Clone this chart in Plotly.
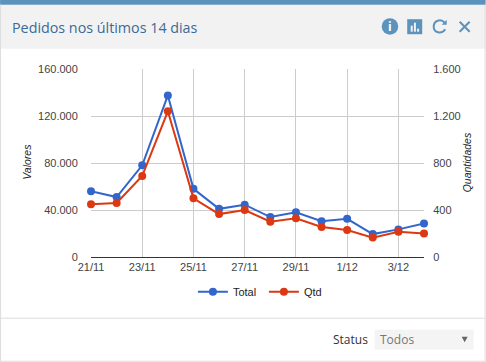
import plotly.graph_objects as go

dates = ["21/11", "22/11", "23/11", "24/11", "25/11", "26/11", "27/11",
         "28/11", "29/11", "30/11", "1/12", "2/12", "3/12", "4/12"]
total = [56000, 51000, 78000, 137500, 58000, 41000, 44500,
         34000, 38000, 30500, 32500, 19500, 23500, 28500]
qtd = [450, 460, 690, 1240, 500, 365, 400,
       300, 330, 255, 230, 165, 215, 200]
x_ticks = ["21/11", "23/11", "25/11", "27/11", "29/11", "1/12", "3/12"]
left_ticks = [0, 40000, 80000, 120000, 160000]
right_ticks = [0, 400, 800, 1200, 1600]

W, H = 486, 362
ML, MR, MT, MB = 91, 61.7, 69.3, 104.7
BLUE, RED = "#3366cc", "#dc3912"
ACCENT = "#5b93bd"
GRID = "#cccccc"
FONT = "Liberation Sans, Arial, sans-serif"

def X(p): return (p - ML) / (W - ML - MR)
def Y(p): return (H - MB - p) / (H - MT - MB)

def rect(x0, y0, x1, y1, fill, line=None, layer="below"):
    return dict(type="rect", xref="paper", yref="paper", x0=X(x0), x1=X(x1),
                y0=Y(y0), y1=Y(y1), fillcolor=fill, layer=layer,
                line=dict(width=1 if line else 0, color=line or fill))

def seg(x0, y0, x1, y1, color, width=1, layer="above"):
    return dict(type="line", xref="paper", yref="paper", x0=X(x0), x1=X(x1),
                y0=Y(y0), y1=Y(y1), layer=layer, line=dict(color=color, width=width))

def label(x, y, text, size, color, family=FONT, anchor="left", angle=0):
    return dict(xref="paper", yref="paper", x=X(x), y=Y(y), text=text, showarrow=False,
                xanchor=anchor, yanchor="middle", textangle=angle,
                font=dict(size=size, color=color, family=family))

shapes = [
    rect(0, 5, W, 49, "#f2f2f2"),
    rect(0, 0, W, 5, ACCENT),
    seg(0.5, 5, 0.5, H, "#dddddd", layer="below"),
    seg(W - 0.5, 5, W - 0.5, H, "#dddddd", layer="below"),
    seg(0, H - 0.5, W, H - 0.5, "#dddddd", layer="below"),
    seg(0, 318.5, W, 318.5, "#dddddd", layer="below"),
    rect(375, 330, 474, 350, "#f4f4f4"),
    # info icon
    dict(type="circle", xref="paper", yref="paper", x0=X(382), x1=X(398.5), y0=Y(35), y1=Y(18.5),
         fillcolor=ACCENT, line=dict(width=0), layer="above"),
    # chart icon
    rect(407.5, 19.5, 422.5, 34.5, ACCENT, layer="above"),
    rect(411, 26, 413, 32, "#f2f2f2", layer="above"),
    rect(414.2, 23, 416.2, 32, "#f2f2f2", layer="above"),
    rect(417.4, 29, 419.4, 32, "#f2f2f2", layer="above"),
    # reload icon
    dict(type="path", xref="paper", yref="paper", layer="above",
         path=f"M {X(445)} {Y(23)} C {X(441)} {Y(18.5)} {X(434)} {Y(21)} {X(434)} {Y(27)} "
              f"C {X(434)} {Y(33)} {X(442)} {Y(35)} {X(445.5)} {Y(29.5)}",
         line=dict(color=ACCENT, width=2)),
    dict(type="path", xref="paper", yref="paper", layer="above",
         path=f"M {X(447)} {Y(20)} L {X(447)} {Y(25)} L {X(442)} {Y(25)} Z",
         fillcolor=ACCENT, line=dict(width=0)),
    # close icon
    seg(460, 22, 470, 32, ACCENT, 2),
    seg(470, 22, 460, 32, ACCENT, 2),
    # select arrow
    dict(type="path", xref="paper", yref="paper", layer="above",
         path=f"M {X(462)} {Y(337)} L {X(468)} {Y(337)} L {X(465)} {Y(342.5)} Z",
         fillcolor="#666666", line=dict(width=0)),
]

annotations = [
    label(10, 28, "Pedidos nos últimos 14 dias", 14.3, "#3a6a98", "Open Sans, sans-serif"),
    label(390.2, 26.5, "<b>i</b>", 12, "#ffffff", "Open Sans, sans-serif", "center"),
    label(370, 340, "Status", 12, "#333333", "Open Sans, sans-serif", "right"),
    label(378, 340, "Todos", 12, "#777777", "Open Sans, sans-serif"),
    label(27, 162, "<i>Valores</i>", 10.5, "#222222", FONT, "center", -90),
    label(467, 163, "<i>Quantidades</i>", 10.5, "#222222", FONT, "center", -90),
]

fig = go.Figure()
fig.add_trace(go.Scatter(x=dates, y=total, name="Total", mode="lines+markers",
                         line=dict(color=BLUE, width=2), marker=dict(color=BLUE, size=8),
                         cliponaxis=False, yaxis="y"))
fig.add_trace(go.Scatter(x=dates, y=qtd, name="Qtd", mode="lines+markers",
                         line=dict(color=RED, width=2), marker=dict(color=RED, size=8),
                         cliponaxis=False, yaxis="y2"))

axis_font = dict(size=11, color="#444444", family=FONT)
fig.update_layout(
    width=W, height=H, autosize=False,
    margin=dict(l=ML, r=MR, t=MT, b=MB, pad=0, autoexpand=False),
    paper_bgcolor="#ffffff", plot_bgcolor="rgba(0,0,0,0)",
    separators=",.",
    font=dict(family=FONT),
    shapes=shapes, annotations=annotations,
    hovermode=False,
    legend=dict(orientation="h", xanchor="left", yanchor="middle",
                x=X(193), y=Y(292), xref="paper", yref="paper",
                bgcolor="rgba(0,0,0,0)",
                font=dict(size=11, color="#222222", family=FONT),
                itemwidth=30, entrywidth=26, tracegroupgap=0),
    xaxis=dict(type="category", categoryorder="array", categoryarray=dates,
               range=[0, len(dates) - 1], tickmode="array", tickvals=x_ticks,
               showgrid=True, gridcolor=GRID, gridwidth=1, zeroline=False,
               showline=True, linecolor="#333333", linewidth=1, ticks="",
               tickfont=axis_font),
    yaxis=dict(range=[0, 160000], tickmode="array", tickvals=left_ticks, tickformat=",d",
               showgrid=True, gridcolor=GRID, gridwidth=1, zeroline=False,
               ticks="outside", ticklen=10, tickcolor="rgba(0,0,0,0)",
               tickfont=axis_font),
    yaxis2=dict(range=[0, 1600], tickmode="array", tickvals=right_ticks, tickformat=",d",
                overlaying="y", side="right", showgrid=False, zeroline=False,
                ticks="outside", ticklen=6, tickcolor="rgba(0,0,0,0)",
                tickfont=axis_font),
)

fig.write_html("out.html", config=dict(displayModeBar=False),
               post_script="document.body.style.margin='0';document.documentElement.style.overflow='hidden';")
